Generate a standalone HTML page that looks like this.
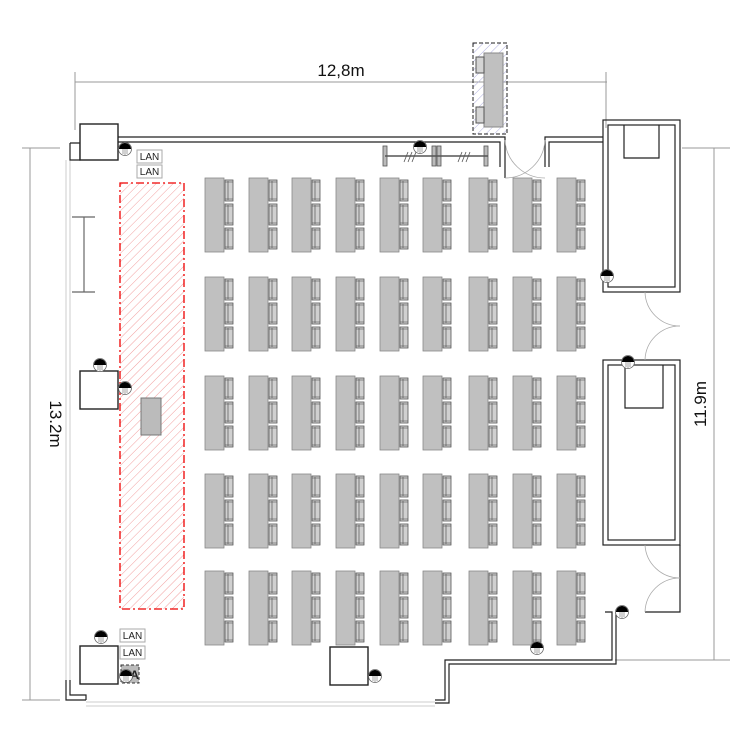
<!DOCTYPE html>
<html><head><meta charset="utf-8"><style>html,body{margin:0;padding:0;background:#fff}svg{display:block}</style></head>
<body>
<svg width="750" height="750" viewBox="0 0 750 750" xmlns="http://www.w3.org/2000/svg" font-family="Liberation Sans, sans-serif">
<defs>
<pattern id="hr" width="6" height="6" patternUnits="userSpaceOnUse" patternTransform="rotate(45)"><line x1="0" y1="0" x2="0" y2="6" stroke="#f2a0a0" stroke-width="1"/></pattern>
<pattern id="hb" width="6" height="6" patternUnits="userSpaceOnUse" patternTransform="rotate(45)"><line x1="0" y1="0" x2="0" y2="6" stroke="#b0b0e0" stroke-width="1"/></pattern>
<g id="chair"><rect x="0" y="0" width="8" height="21" fill="#d0d0d0" stroke="#555" stroke-width="0.8"/><line x1="3" y1="1" x2="3" y2="20" stroke="#555" stroke-width="0.7"/><line x1="0" y1="2" x2="8" y2="2" stroke="#555" stroke-width="0.6"/><line x1="0" y1="19" x2="8" y2="19" stroke="#555" stroke-width="0.6"/></g>
<g id="desk"><rect x="0" y="0" width="19" height="74" fill="#c0c0c0" stroke="#888" stroke-width="0.8"/><use href="#chair" x="20" y="2"/><use href="#chair" x="20" y="26"/><use href="#chair" x="20" y="50"/></g>
<g id="lamp"><circle cx="0" cy="0" r="6.5" fill="#fff" stroke="#666" stroke-width="0.8"/><path d="M-6,0 A6,6 0 0 1 6,0 Z" fill="#000"/><line x1="-2" y1="0" x2="-2" y2="5" stroke="#666" stroke-width="0.6"/><line x1="0" y1="0" x2="0" y2="6" stroke="#666" stroke-width="0.6"/><line x1="2" y1="0" x2="2" y2="5" stroke="#666" stroke-width="0.6"/></g>
</defs>

<g stroke="#999" stroke-width="1" fill="none">
<line x1="75" y1="82" x2="607" y2="82"/><line x1="75" y1="72" x2="75" y2="130"/><line x1="606" y1="72" x2="606" y2="128"/>
<line x1="22" y1="148" x2="60" y2="148"/><line x1="22" y1="700" x2="60" y2="700"/><line x1="30" y1="148" x2="30" y2="700"/>
<line x1="682" y1="148" x2="730" y2="148"/><line x1="615" y1="660" x2="730" y2="660"/><line x1="714" y1="148" x2="714" y2="660"/>
</g>
<text x="341" y="76" font-size="17" text-anchor="middle" fill="#111">12,8m</text>
<text transform="translate(50,424) rotate(90)" font-size="17" text-anchor="middle" fill="#111">13.2m</text>
<text transform="translate(706,404) rotate(-90)" font-size="17" text-anchor="middle" fill="#111">11.9m</text>

<g stroke="#ccc" stroke-width="1" fill="none">
<line x1="66" y1="160" x2="66" y2="690"/><line x1="70" y1="160" x2="70" y2="690"/>
<line x1="86" y1="702" x2="435" y2="702"/><line x1="86" y1="706" x2="435" y2="706"/>
</g>

<g stroke="#222" stroke-width="1.2" fill="none">
<polyline points="80,137 505,137 505,178"/><polyline points="80,142 500,142 500,167"/>
<polyline points="545,167 545,137 603,137"/><polyline points="549,167 549,142 603,142"/>
<polyline points="70,143 80,143 80,160 70,160 70,143"/>
<polyline points="70,680 70,695 86,695 86,700"/><polyline points="66,680 66,700 86,700"/>
<polyline points="435,700 445,700 445,660 612,660 612,612 605,612"/>
<polyline points="435,703 449,703 449,664 616,664 616,612"/>
<rect x="603" y="120" width="77" height="172"/><rect x="608" y="125" width="67" height="162"/>
<polyline points="624,125 624,158 659,158 659,125"/>
<rect x="603" y="360" width="77" height="185"/><rect x="608" y="365" width="67" height="175"/>
<polyline points="625,365 625,408 663,408 663,365"/>
<polyline points="645,612 680,612 680,545"/>
</g>
<g stroke="#aaa" stroke-width="0.8" fill="none">
<path d="M505,178 A40,40 0 0 0 545,140"/><path d="M545,178 A40,40 0 0 1 505,140"/>
<path d="M645,292 A35,35 0 0 0 680,326"/><path d="M645,360 A35,35 0 0 1 680,326"/>
<path d="M645,545 A35,35 0 0 0 680,578"/><path d="M645,612 A35,35 0 0 1 680,578"/>
</g>

<rect x="80" y="124" width="38" height="36" fill="#fff" stroke="#222" stroke-width="1.4"/>
<rect x="80" y="371" width="38" height="38" fill="#fff" stroke="#222" stroke-width="1.4"/>
<rect x="80" y="646" width="38" height="38" fill="#fff" stroke="#222" stroke-width="1.4"/>
<rect x="330" y="647" width="38" height="38" fill="#fff" stroke="#222" stroke-width="1.4"/>

<g stroke="#666" stroke-width="1.2"><line x1="72" y1="217" x2="95" y2="217"/><line x1="84" y1="217" x2="84" y2="292"/><line x1="72" y1="292" x2="95" y2="292"/></g>
<g stroke="#555" fill="#bbb" stroke-width="0.8">
<rect x="383" y="146" width="4" height="20"/><rect x="432" y="146" width="4" height="20"/><rect x="437" y="146" width="4" height="20"/><rect x="484" y="146" width="4" height="20"/>
<line x1="385" y1="156" x2="488" y2="156" stroke-width="1.5"/>
<path d="M404,162 L408,152 M408,162 L412,152 M412,162 L416,152 M458,162 L462,152 M462,162 L466,152 M466,162 L470,152" fill="none"/>
</g>

<rect x="120" y="183" width="64" height="426" fill="url(#hr)" stroke="#e00" stroke-width="1.3" stroke-dasharray="8,3,2,3"/>
<rect x="141" y="398" width="20" height="37" fill="#bbb" stroke="#777"/>

<rect x="473" y="43" width="34" height="91" fill="url(#hb)" stroke="#222" stroke-dasharray="4,2"/>
<rect x="484" y="53" width="19" height="74" fill="#c0c0c0" stroke="#888"/>
<rect x="476" y="57" width="8" height="16" fill="#d4d4d4" stroke="#555"/><rect x="476" y="107" width="8" height="16" fill="#d4d4d4" stroke="#555"/>

<g font-size="10" text-anchor="middle" fill="#222">
<rect x="137" y="150" width="25" height="13" fill="#fff" stroke="#aaa"/><text x="149.5" y="160">LAN</text>
<rect x="137" y="165" width="25" height="13" fill="#fff" stroke="#aaa"/><text x="149.5" y="175">LAN</text>
<rect x="120" y="629" width="25" height="13" fill="#fff" stroke="#aaa"/><text x="132.5" y="639">LAN</text>
<rect x="120" y="646" width="25" height="13" fill="#fff" stroke="#aaa"/><text x="132.5" y="656">LAN</text>
<rect x="121" y="665" width="18" height="18" fill="#bbb" stroke="#333" stroke-dasharray="3,2"/><text x="131" y="679" font-size="12" font-weight="bold">PA</text>
</g>

<g>
<use href="#desk" x="205" y="178"/><use href="#desk" x="249" y="178"/><use href="#desk" x="292" y="178"/><use href="#desk" x="336" y="178"/><use href="#desk" x="380" y="178"/><use href="#desk" x="423" y="178"/><use href="#desk" x="469" y="178"/><use href="#desk" x="513" y="178"/><use href="#desk" x="557" y="178"/>
<use href="#desk" x="205" y="277"/><use href="#desk" x="249" y="277"/><use href="#desk" x="292" y="277"/><use href="#desk" x="336" y="277"/><use href="#desk" x="380" y="277"/><use href="#desk" x="423" y="277"/><use href="#desk" x="469" y="277"/><use href="#desk" x="513" y="277"/><use href="#desk" x="557" y="277"/>
<use href="#desk" x="205" y="376"/><use href="#desk" x="249" y="376"/><use href="#desk" x="292" y="376"/><use href="#desk" x="336" y="376"/><use href="#desk" x="380" y="376"/><use href="#desk" x="423" y="376"/><use href="#desk" x="469" y="376"/><use href="#desk" x="513" y="376"/><use href="#desk" x="557" y="376"/>
<use href="#desk" x="205" y="474"/><use href="#desk" x="249" y="474"/><use href="#desk" x="292" y="474"/><use href="#desk" x="336" y="474"/><use href="#desk" x="380" y="474"/><use href="#desk" x="423" y="474"/><use href="#desk" x="469" y="474"/><use href="#desk" x="513" y="474"/><use href="#desk" x="557" y="474"/>
<use href="#desk" x="205" y="571"/><use href="#desk" x="249" y="571"/><use href="#desk" x="292" y="571"/><use href="#desk" x="336" y="571"/><use href="#desk" x="380" y="571"/><use href="#desk" x="423" y="571"/><use href="#desk" x="469" y="571"/><use href="#desk" x="513" y="571"/><use href="#desk" x="557" y="571"/>
</g>

<use href="#lamp" x="125" y="149"/><use href="#lamp" x="420" y="147"/><use href="#lamp" x="100" y="365"/><use href="#lamp" x="125" y="388"/>
<use href="#lamp" x="101" y="637"/><use href="#lamp" x="126" y="676"/><use href="#lamp" x="375" y="676"/><use href="#lamp" x="607" y="276"/>
<use href="#lamp" x="628" y="362"/><use href="#lamp" x="622" y="612"/><use href="#lamp" x="537" y="648"/>
</svg>
</body></html>
